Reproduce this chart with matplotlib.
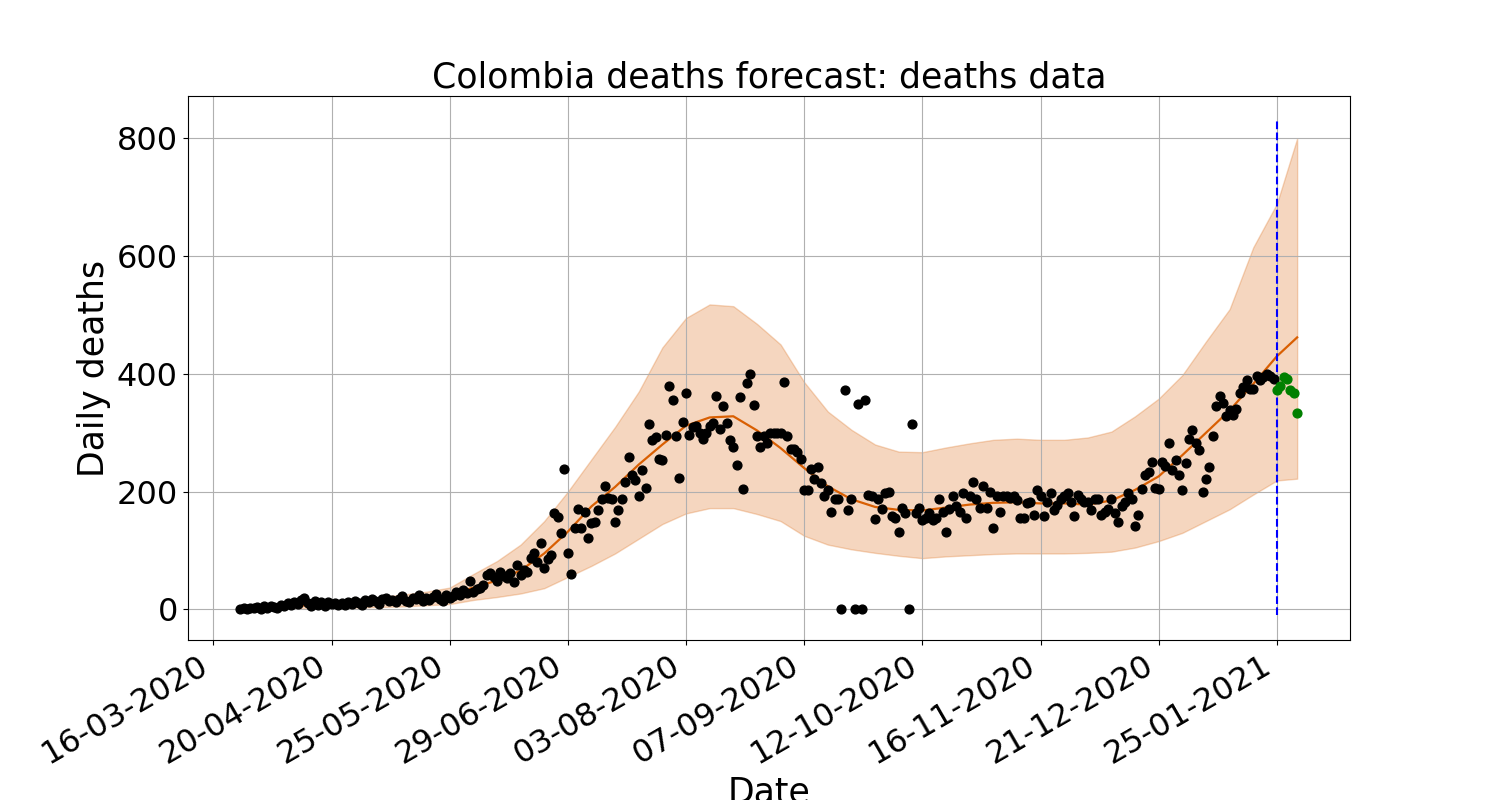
import numpy as np
import pandas as pd
import matplotlib
matplotlib.use("Agg")
import matplotlib.pyplot as plt
import matplotlib.dates as mdates

# daily deaths, 24-03-2020 .. 24-01-2021
obs_start = "2020-03-24"
deaths = [
    1, 2, 0, 3, 2, 4, 1, 5, 3, 6, 4, 3, 8,
    6, 10, 8, 12, 9, 16, 20, 11, 5, 14, 8, 12, 6, 13, 9,
    10, 7, 11, 8, 12, 9, 14, 10, 8, 16, 12, 18, 15, 9, 17,
    20, 14, 16, 13, 18, 22, 15, 12, 20, 17, 24, 14, 19, 16, 21, 26, 18, 15, 24, 20,
    22, 30, 25, 33, 28, 49, 29, 35, 37, 42, 58, 61, 55, 49, 63, 57, 54, 62, 46, 75,
    58, 67, 63, 87, 95, 80, 112, 71, 85, 92, 163, 157, 129, 239, 95,
    60, 138, 171, 138, 165, 122, 146, 148, 168, 188, 210, 190, 188, 148, 168,
    188, 216, 258, 228, 219, 193, 236, 207, 315, 287, 292, 256, 253, 297, 380,
    356, 295, 224, 319, 367, 297, 309, 312, 300, 290, 300, 312, 317, 362, 307,
    346, 316, 287, 275, 246, 360, 204, 384, 400, 348, 295, 275, 295, 283, 299,
    299, 300, 299, 387, 294, 273, 272, 268, 256, 202, 202, 238, 222, 241, 214,
    193, 202, 165, 188, 187, 0, 373, 168, 188, 0, 349, 0, 356, 194, 192,
    153, 187, 170, 197, 200, 158, 156, 132, 173, 163, 0, 315, 163, 173, 151,
    156, 163, 151, 156, 187, 165, 132, 170, 192, 175, 165, 197, 155, 193, 217,
    188, 173, 209, 173, 200, 138, 193, 166, 193, 193, 190, 193, 185, 155, 156,
    180, 182, 160, 202, 193, 158, 182, 197, 168, 177, 188, 193, 197, 183, 158,
    195, 188, 183, 182, 168, 187, 188, 161, 165, 171, 188, 163, 149, 175, 182,
    197, 187, 141, 161, 205, 228, 233, 250, 207, 205, 251, 243, 282, 236, 253,
    228, 202, 248, 289, 304, 282, 270, 200, 222, 241, 295, 345, 362, 351, 329,
    338, 331, 341, 367, 377, 390, 375, 375, 397, 390, 394, 399, 396, 392,
]

# held-out deaths, 25-01-2021 .. 31-01-2021
test_start = "2021-01-25"
test_deaths = [373, 379, 395, 392, 372, 367, 333]

# forecast (weekly read-off) with lower / upper band
fc_dates = ["2020-03-24", "2020-03-30", "2020-04-06", "2020-04-13", "2020-04-20",
            "2020-04-27", "2020-05-04", "2020-05-11", "2020-05-18", "2020-05-25",
            "2020-06-01", "2020-06-08", "2020-06-15", "2020-06-22", "2020-06-29",
            "2020-07-06", "2020-07-13", "2020-07-20", "2020-07-27", "2020-08-03",
            "2020-08-10", "2020-08-17", "2020-08-24", "2020-08-31", "2020-09-07",
            "2020-09-14", "2020-09-21", "2020-09-28", "2020-10-05", "2020-10-12",
            "2020-10-19", "2020-10-26", "2020-11-02", "2020-11-09", "2020-11-16",
            "2020-11-23", "2020-11-30", "2020-12-07", "2020-12-14", "2020-12-21",
            "2020-12-28", "2021-01-04", "2021-01-11", "2021-01-18", "2021-01-25",
            "2021-01-31"]
fc_mid = [2, 3, 5, 7, 9, 11, 13, 15, 19, 24, 37, 49, 66, 95, 132, 175, 208, 246,
          280, 312, 326, 328, 304, 274, 240, 209, 187, 174, 169, 168, 173, 178,
          181, 182, 180, 180, 178, 185, 203, 226, 262, 300, 338, 383, 430, 462]
fc_low = [0, 0, 1, 1, 2, 3, 4, 5, 7, 9, 16, 21, 27, 36, 55, 74, 95, 120, 145,
          163, 172, 172, 162, 150, 125, 110, 102, 96, 91, 87, 90, 92, 94, 95, 95,
          95, 96, 98, 105, 116, 130, 150, 170, 195, 219, 222]
fc_up = [3, 5, 8, 11, 14, 17, 21, 25, 30, 37, 60, 82, 110, 150, 200, 255, 310,
         370, 445, 495, 518, 515, 485, 450, 386, 336, 305, 280, 268, 267, 275,
         282, 288, 290, 288, 288, 292, 302, 328, 358, 398, 455, 510, 615, 689, 800]

tick_dates = ["2020-03-16", "2020-04-20", "2020-05-25", "2020-06-29", "2020-08-03",
              "2020-09-07", "2020-10-12", "2020-11-16", "2020-12-21", "2021-01-25"]

obs_dates = pd.date_range(obs_start, periods=len(deaths), freq="D")
test_dates = pd.date_range(test_start, periods=len(test_deaths), freq="D")
fc_dates = pd.to_datetime(fc_dates)

fig, ax = plt.subplots(figsize=(15, 8), dpi=100)
ax.fill_between(fc_dates, fc_low, fc_up, color="#d95f02", alpha=0.25)
ax.plot(fc_dates, fc_mid, color="#d95f02", lw=1.6)
ax.scatter(obs_dates, deaths, color="k", s=40, zorder=3)
ax.scatter(test_dates, test_deaths, color="g", s=40, zorder=3)
ax.vlines(pd.Timestamp(test_start), -10, 830, colors="b", linestyles="--", lw=1.5)

ax.set_xticks(pd.to_datetime(tick_dates))
ax.xaxis.set_major_formatter(mdates.DateFormatter("%d-%m-%Y"))
ax.tick_params(labelsize=23)
ax.grid(True)
ax.set_title("Colombia deaths forecast: deaths data", fontsize=25)
ax.set_xlabel("Date", fontsize=25)
ax.set_ylabel("Daily deaths", fontsize=25)
fig.autofmt_xdate()

plt.savefig("out.png")
